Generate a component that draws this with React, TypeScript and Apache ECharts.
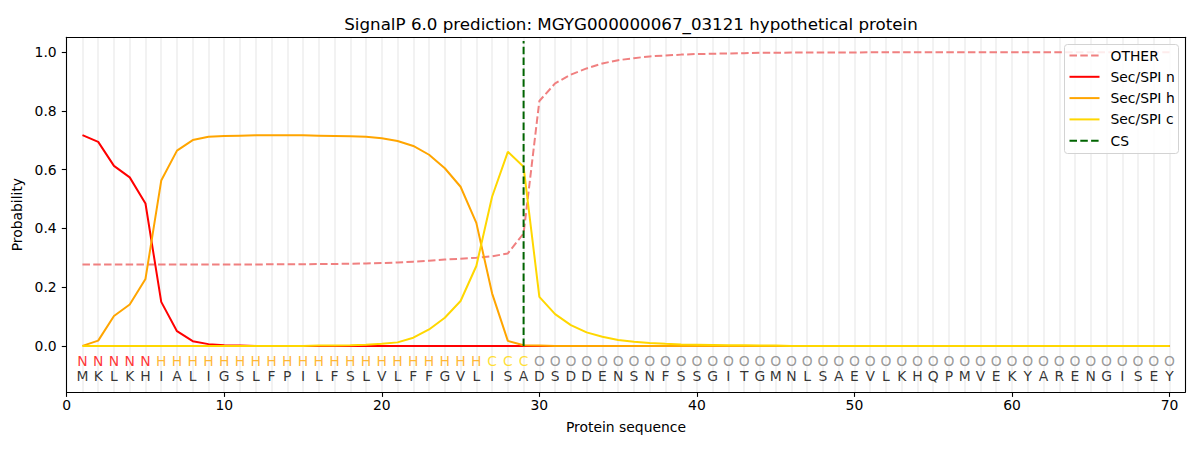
import React, { useEffect, useRef } from "react";
import * as echarts from "echarts";

const TITLE = "SignalP 6.0 prediction: MGYG000000067_03121 hypothetical protein";
const SEQUENCE = "MKLKHIALIGSLFPILFSLVLFFGVLISADSDDENSNFSSGITGMNLSAEVLKHQPMVEKYARENGISEY".split("");
const REGIONS = "NNNNNHHHHHHHHHHHHHHHHHHHHHCCCOOOOOOOOOOOOOOOOOOOOOOOOOOOOOOOOOOOOOOOOO".split("");
const POSITIONS = SEQUENCE.map((_, i) => i + 1);
const CS_POSITION = 29;
const CS_LINE = [0, 1.038];

const OTHER = [
  0.277, 0.277, 0.277, 0.277, 0.277, 0.277, 0.277, 0.277, 0.277, 0.277,
  0.277, 0.277, 0.278, 0.278, 0.278, 0.279, 0.279, 0.28, 0.281, 0.282,
  0.284, 0.287, 0.29, 0.294, 0.297, 0.3, 0.305, 0.315, 0.383, 0.834,
  0.894, 0.924, 0.945, 0.962, 0.973, 0.98, 0.986, 0.989, 0.992, 0.994,
  0.995, 0.996, 0.997, 0.998, 0.998, 0.999, 0.999, 0.999, 0.999, 0.999,
  1.0, 1.0, 1.0, 1.0, 1.0, 1.0, 1.0, 1.0, 1.0, 1.0,
  1.0, 1.0, 1.0, 1.0, 1.0, 1.0, 1.0, 1.0, 1.0, 1.0,
];
const SEC_N = [
  0.718, 0.695, 0.613, 0.574, 0.485, 0.15, 0.05, 0.016, 0.006, 0.002,
  0.001, 0.0, 0.0, 0.0, 0.0, 0.0, 0.0, 0.0, 0.0, 0.0,
  0.0, 0.0, 0.0, 0.0, 0.0, 0.0, 0.0, 0.0, 0.0, 0.0,
  0.0, 0.0, 0.0, 0.0, 0.0, 0.0, 0.0, 0.0, 0.0, 0.0,
  0.0, 0.0, 0.0, 0.0, 0.0, 0.0, 0.0, 0.0, 0.0, 0.0,
  0.0, 0.0, 0.0, 0.0, 0.0, 0.0, 0.0, 0.0, 0.0, 0.0,
  0.0, 0.0, 0.0, 0.0, 0.0, 0.0, 0.0, 0.0, 0.0, 0.0,
];
const SEC_H = [
  0.0, 0.018, 0.102, 0.141, 0.228, 0.563, 0.665, 0.701, 0.712, 0.715,
  0.716, 0.717, 0.717, 0.717, 0.717, 0.716, 0.715, 0.714, 0.712, 0.707,
  0.698, 0.681, 0.651, 0.605, 0.542, 0.419, 0.179, 0.017, 0.002, 0.001,
  0.0, 0.0, 0.0, 0.0, 0.0, 0.0, 0.0, 0.0, 0.0, 0.0,
  0.0, 0.0, 0.0, 0.0, 0.0, 0.0, 0.0, 0.0, 0.0, 0.0,
  0.0, 0.0, 0.0, 0.0, 0.0, 0.0, 0.0, 0.0, 0.0, 0.0,
  0.0, 0.0, 0.0, 0.0, 0.0, 0.0, 0.0, 0.0, 0.0, 0.0,
];
const SEC_C = [
  0.0, 0.0, 0.0, 0.0, 0.0, 0.0, 0.0, 0.0, 0.0, 0.0,
  0.0, 0.0, 0.0, 0.0, 0.0, 0.001, 0.001, 0.002, 0.004, 0.007,
  0.012, 0.028, 0.056, 0.096, 0.153, 0.272, 0.508, 0.661, 0.61, 0.167,
  0.108, 0.071, 0.046, 0.031, 0.02, 0.014, 0.01, 0.007, 0.005, 0.004,
  0.003, 0.002, 0.002, 0.001, 0.001, 0.0, 0.0, 0.0, 0.0, 0.0,
  0.0, 0.0, 0.0, 0.0, 0.0, 0.0, 0.0, 0.0, 0.0, 0.0,
  0.0, 0.0, 0.0, 0.0, 0.0, 0.0, 0.0, 0.0, 0.0, 0.0,
];
const X_TICKS = [0, 10, 20, 30, 40, 50, 60, 70];
const Y_TICKS = [0, 0.2, 0.4, 0.6, 0.8, 1.0];
const LEGEND_NAMES = ["OTHER", "Sec/SPI n", "Sec/SPI h", "Sec/SPI c", "CS"];

const FONT = "DejaVu Sans";
const COLORS: Record<string, string> = {
  OTHER: "#f08080",
  "Sec/SPI n": "#ff0000",
  "Sec/SPI h": "#ffa500",
  "Sec/SPI c": "#ffd700",
  CS: "#006400",
};
const REGION_COLORS: Record<string, string> = {
  N: "#ff0000",
  H: "#ffa500",
  C: "#ffd700",
  O: "#808080",
};
const DASH = [7.5, 3.3];

export default function App() {
  const ref = useRef<HTMLDivElement>(null);
  useEffect(() => {
    if (!ref.current) return;
    const chart = echarts.init(ref.current, undefined, { renderer: "svg" });
    const pair = (arr: number[]) => POSITIONS.map((p, i) => [p, arr[i]]);
    const lineSeries = (name: string, arr: number[], dashed: boolean, z: number) => ({
      type: "line",
      name,
      data: pair(arr),
      showSymbol: false,
      symbol: "none",
      z,
      lineStyle: { color: COLORS[name], width: 2, type: dashed ? DASH : "solid" },
      itemStyle: { color: COLORS[name] },
    });

    const legendItems: any[] = [
      {
        type: "rect",
        z: 100,
        shape: { x: 0, y: 0, width: 114, height: 109, r: 3 },
        style: { fill: "rgba(255,255,255,0.85)", stroke: "#d3d3d3", lineWidth: 1 },
      },
    ];
    LEGEND_NAMES.forEach((name, i) => {
      const y = 11 + i * 21.3;
      legendItems.push({
        type: "line",
        z: 101,
        shape: { x1: 5, y1: y, x2: 35, y2: y },
        style: {
          stroke: COLORS[name],
          lineWidth: 2,
          lineDash: name === "OTHER" || name === "CS" ? DASH : null,
        },
      });
      legendItems.push({
        type: "text",
        z: 101,
        x: 46,
        y,
        style: {
          text: name,
          fill: "#000",
          font: `13.9px "${FONT}"`,
          verticalAlign: "middle",
          align: "left",
        },
      });
    });

    const axisLineStyle = { color: "#000", width: 1.1 };

    const option: any = {
      animation: false,
      backgroundColor: "#fff",
      textStyle: { fontFamily: FONT },
      title: {
        text: TITLE,
        left: 626,
        top: 10,
        textAlign: "center",
        textStyle: { fontFamily: FONT, fontSize: 16.7, fontWeight: "normal", color: "#000" },
      },
      grid: { left: 66.7, right: 14.7, top: 37.3, bottom: 58, containLabel: false },
      xAxis: [
        {
          type: "value",
          min: 0,
          max: 71,
          interval: 10,
          z: 50,
          name: "Protein sequence",
          nameLocation: "middle",
          nameGap: 28,
          nameTextStyle: { fontFamily: FONT, fontSize: 13.9, color: "#000" },
          axisLine: { show: true, onZero: false, lineStyle: axisLineStyle },
          axisTick: { show: true, length: 4.9, lineStyle: axisLineStyle, customValues: X_TICKS },
          axisLabel: { fontFamily: FONT, fontSize: 13.9, color: "#000", margin: 6, customValues: X_TICKS },
          splitLine: { show: false },
        },
        {
          type: "value",
          min: 0,
          max: 71,
          z: 50,
          position: "top",
          axisLine: { show: true, onZero: false, lineStyle: axisLineStyle },
          axisTick: { show: false },
          axisLabel: { show: false },
          splitLine: { show: false },
        },
      ],
      yAxis: [
        {
          type: "value",
          min: -0.157,
          max: 1.051,
          z: 50,
          name: "Probability",
          nameLocation: "middle",
          nameGap: 29,
          nameTextStyle: { fontFamily: FONT, fontSize: 13.9, color: "#000" },
          axisLine: { show: true, onZero: false, lineStyle: axisLineStyle },
          axisTick: { show: true, length: 4.9, lineStyle: axisLineStyle, customValues: Y_TICKS },
          axisLabel: {
            fontFamily: FONT,
            fontSize: 13.9,
            color: "#000",
            margin: 10,
            customValues: Y_TICKS,
            formatter: (v: number) => v.toFixed(1),
          },
          splitLine: { show: false },
        },
        {
          type: "value",
          min: -0.157,
          max: 1.051,
          z: 50,
          position: "right",
          axisLine: { show: true, onZero: false, lineStyle: axisLineStyle },
          axisTick: { show: false },
          axisLabel: { show: false },
          splitLine: { show: false },
        },
      ],
      graphic: [
        {
          type: "group",
          left: 1064,
          top: 44,
          z: 100,
          children: legendItems,
        },
      ],
      series: [
        {
          type: "line",
          name: "grid",
          data: [],
          z: 0,
          silent: true,
          markLine: {
            silent: true,
            z: 0,
            symbol: ["none", "none"],
            label: { show: false },
            emphasis: { disabled: true },
            lineStyle: { color: "#f2f2f2", width: 2, type: "solid" },
            data: POSITIONS.map((p) => ({ xAxis: p })),
          },
        },
        lineSeries("OTHER", OTHER, true, 3),
        lineSeries("Sec/SPI n", SEC_N, false, 4),
        lineSeries("Sec/SPI h", SEC_H, false, 5),
        lineSeries("Sec/SPI c", SEC_C, false, 6),
        {
          type: "line",
          name: "CS",
          data: CS_LINE.map((v) => [CS_POSITION, v]),
          showSymbol: false,
          symbol: "none",
          z: 7,
          lineStyle: { color: COLORS.CS, width: 2, type: DASH },
        },
        {
          type: "scatter",
          name: "regions",
          symbolSize: 0,
          z: 8,
          silent: true,
          data: POSITIONS.map((p, i) => ({
            value: [p, -0.052],
            label: {
              show: true,
              position: "inside",
              formatter: REGIONS[i],
              color: REGION_COLORS[REGIONS[i]],
              fontFamily: FONT,
              fontSize: 13.9,
            },
          })),
        },
        {
          type: "scatter",
          name: "sequence",
          symbolSize: 0,
          z: 8,
          silent: true,
          data: POSITIONS.map((p, i) => ({
            value: [p, -0.103],
            label: {
              show: true,
              position: "inside",
              formatter: SEQUENCE[i],
              color: "#000",
              fontFamily: FONT,
              fontSize: 13.9,
            },
          })),
        },
      ],
    };
    chart.setOption(option);
    return () => chart.dispose();
  }, []);
  return <div ref={ref} style={{ width: 1200, height: 450, position: "absolute", left: 0, top: 0 }} />;
}
